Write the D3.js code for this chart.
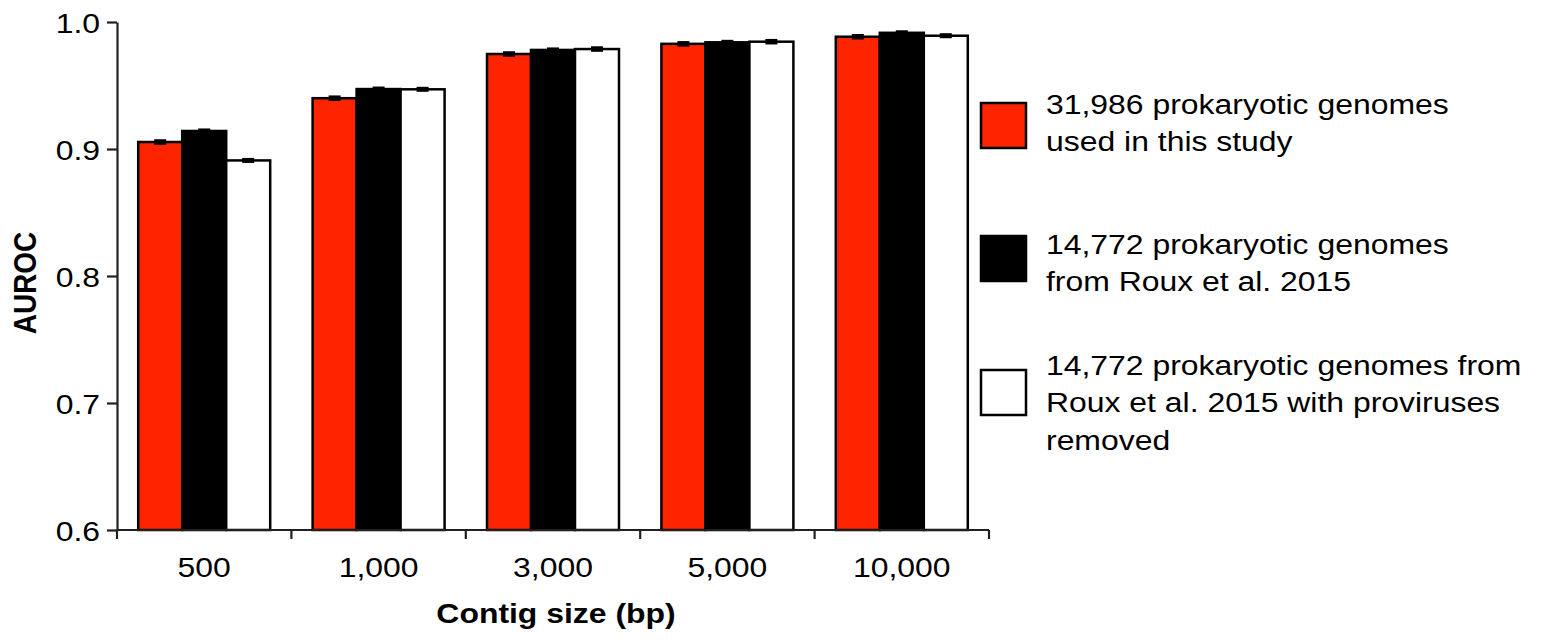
<!DOCTYPE html>
<html><head><meta charset="utf-8">
<script src="https://cdn.jsdelivr.net/npm/d3@7"></script>
<style>
html,body{margin:0;padding:0;background:#fff;}
text{font-family:"Liberation Sans",Arial,Helvetica,sans-serif;fill:#000;}
</style></head>
<body>
<svg id="chart" width="1543" height="644"></svg>
<script>
const categories = ["500", "1,000", "3,000", "5,000", "10,000"];
const seriesNames = ["this", "roux", "rouxNoProv"];
const valuesThis = [0.9055, 0.9400, 0.9748, 0.9828, 0.9884];
const valuesRoux = [0.9142, 0.9472, 0.9780, 0.9840, 0.9915];
const valuesRouxNoProv = [0.8910, 0.9470, 0.9787, 0.9845, 0.9892];
const errThis = [0.0010, 0.0010, 0.0010, 0.0010, 0.0010];
const errRoux = [0.0008, 0.0008, 0.0008, 0.0008, 0.0008];
const errRouxNoProv = [0.0008, 0.0008, 0.0010, 0.0010, 0.0008];
const yTicks = [0.6, 0.7, 0.8, 0.9, 1.0];
const legendLabels = [
  ["31,986 prokaryotic genomes", "used in this study"],
  ["14,772 prokaryotic genomes", "from Roux et al. 2015"],
  ["14,772 prokaryotic genomes from", "Roux et al. 2015 with proviruses", "removed"]
];
const colors = ["#ff2400", "#000000", "#ffffff"];

const seriesValues = [valuesThis, valuesRoux, valuesRouxNoProv];
const seriesErr = [errThis, errRoux, errRouxNoProv];

const SX = 1.14; // horizontal text stretch
const svg = d3.select("#chart");

const x0 = d3.scaleBand().domain(categories).range([117, 989]).padding(0);
const x1 = d3.scaleBand().domain(seriesNames).range([0, x0.bandwidth()]).paddingInner(0).paddingOuter(0.482);
const y = d3.scaleLinear().domain([0.6, 1.0]).range([530, 22]);

// bars
const data = [];
categories.forEach((c, i) => seriesNames.forEach((s, j) => {
  data.push({c, s, j, v: seriesValues[j][i], e: seriesErr[j][i]});
}));

const g = svg.append("g");
g.selectAll("rect.bar").data(data).join("rect")
  .attr("class", "bar")
  .attr("x", d => x0(d.c) + x1(d.s))
  .attr("y", d => y(d.v))
  .attr("width", x1.bandwidth())
  .attr("height", d => y(0.6) - y(d.v))
  .attr("fill", d => colors[d.j])
  .attr("stroke", "#000")
  .attr("stroke-width", 2.5);

// error bars
const eb = g.selectAll("g.err").data(data).join("g").attr("class", "err");
eb.append("line")
  .attr("x1", d => x0(d.c) + x1(d.s) + x1.bandwidth() / 2)
  .attr("x2", d => x0(d.c) + x1(d.s) + x1.bandwidth() / 2)
  .attr("y1", d => y(d.v + d.e))
  .attr("y2", d => y(d.v - d.e))
  .attr("stroke", "#000").attr("stroke-width", 3);
eb.append("line")
  .attr("x1", d => x0(d.c) + x1(d.s) + x1.bandwidth() / 2 - 6)
  .attr("x2", d => x0(d.c) + x1(d.s) + x1.bandwidth() / 2 + 6)
  .attr("y1", d => y(d.v + d.e))
  .attr("y2", d => y(d.v + d.e))
  .attr("stroke", "#000").attr("stroke-width", 3);
eb.append("line")
  .attr("x1", d => x0(d.c) + x1(d.s) + x1.bandwidth() / 2 - 6)
  .attr("x2", d => x0(d.c) + x1(d.s) + x1.bandwidth() / 2 + 6)
  .attr("y1", d => y(d.v - d.e))
  .attr("y2", d => y(d.v - d.e))
  .attr("stroke", "#000").attr("stroke-width", 3);

// y axis
const axisColor = "#231f20";
const yAxis = d3.axisLeft(y).tickValues(yTicks).tickFormat(d3.format(".1f")).tickSize(10).tickSizeOuter(0).tickPadding(7);
const yg = svg.append("g").attr("transform", "translate(117,0)").call(yAxis);
yg.select(".domain").attr("stroke", axisColor).attr("stroke-width", 2.2);
yg.selectAll(".tick line").attr("stroke", axisColor).attr("stroke-width", 2.2);
yg.selectAll(".tick text")
  .attr("font-size", 28)
  .attr("font-family", "Liberation Sans, Arial, sans-serif")
  .attr("fill", "#000")
  .attr("x", -17 / SX)
  .attr("dy", "0.36em")
  .attr("transform", `scale(${SX},1)`);

// x axis (ticks at band boundaries)
const xg = svg.append("g");
const boundaries = categories.map(c => x0(c)).concat([x0.range()[1]]);
xg.append("line").attr("x1", x0.range()[0]).attr("x2", x0.range()[1])
  .attr("y1", y(0.6)).attr("y2", y(0.6))
  .attr("stroke", axisColor).attr("stroke-width", 2.2);
xg.selectAll("line.xt").data(boundaries).join("line").attr("class", "xt")
  .attr("x1", d => d).attr("x2", d => d)
  .attr("y1", y(0.6)).attr("y2", y(0.6) + 9)
  .attr("stroke", axisColor).attr("stroke-width", 2.2);
xg.selectAll("text.xl").data(categories).join("text").attr("class", "xl")
  .attr("transform", d => `translate(${x0(d) + x0.bandwidth() / 2},577) scale(${SX},1)`)
  .attr("text-anchor", "middle")
  .attr("font-size", 28)
  .text(d => d);

// axis titles
svg.append("text")
  .attr("transform", `translate(556,623) scale(${SX},1)`)
  .attr("text-anchor", "middle")
  .attr("font-size", 28).attr("font-weight", "bold")
  .text("Contig size (bp)");
svg.append("text")
  .attr("transform", `translate(36,283) scale(${SX},1) rotate(-90)`)
  .attr("text-anchor", "middle")
  .attr("font-size", 28).attr("font-weight", "bold")
  .text("AUROC");

// legend
const legendSwatchY = [103, 236, 370];
const legendTextY = [114, 254, 375];
const lg = svg.append("g");
legendLabels.forEach((lines, i) => {
  lg.append("rect")
    .attr("x", 981).attr("y", legendSwatchY[i])
    .attr("width", 45).attr("height", 45)
    .attr("fill", colors[i]).attr("stroke", "#000").attr("stroke-width", 2.5);
  const t = lg.append("text")
    .attr("transform", `translate(1046,${legendTextY[i]}) scale(${SX},1)`)
    .attr("font-size", 28);
  lines.forEach((ln, k) => {
    t.append("tspan").attr("x", 0).attr("y", k * 37.5).text(ln);
  });
});
</script>
</body></html>
